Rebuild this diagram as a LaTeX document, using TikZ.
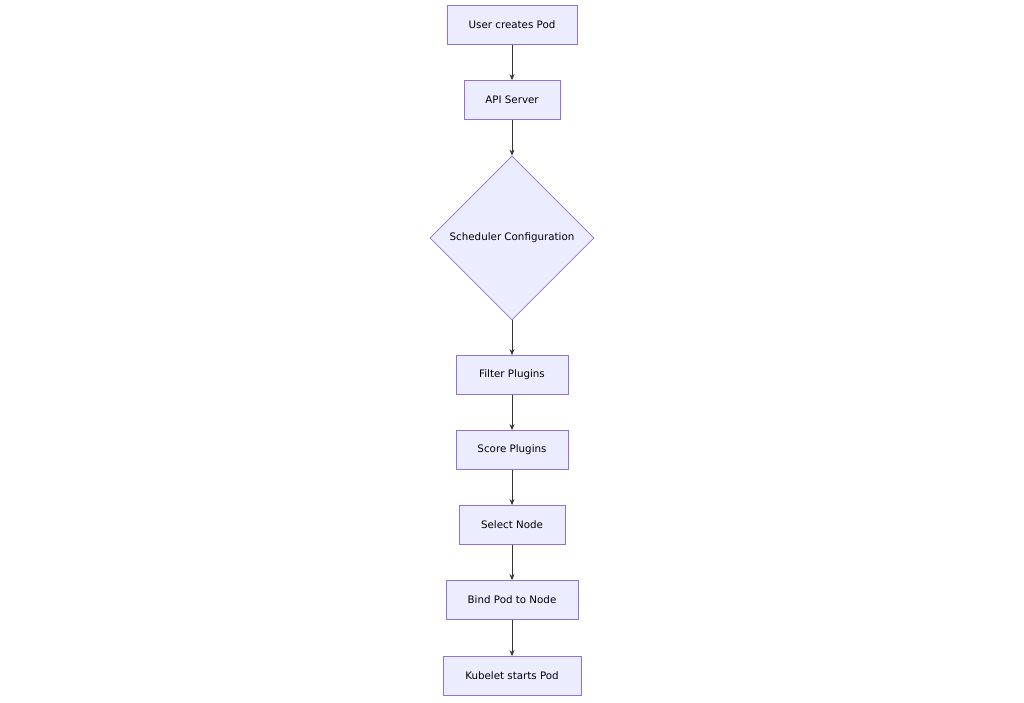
\documentclass[tikz,border=0pt]{standalone}
\usepackage{fontspec}
\setmainfont{DejaVu Sans}
\usetikzlibrary{shapes.geometric,arrows.meta}
\definecolor{boxfill}{HTML}{ECECFF}
\definecolor{boxline}{HTML}{9370DB}
\definecolor{arrowline}{HTML}{333333}

\begin{document}
\begin{tikzpicture}[x=1pt,y=-1pt,
    stage/.style = {draw=boxline, fill=boxfill, line width=0.8pt, minimum height=39pt, inner sep=0pt, font=\fontsize{10.3}{12}\selectfont},
    choice/.style = {draw=boxline, fill=boxfill, line width=0.8pt, diamond, minimum width=164pt, minimum height=164pt, inner sep=0pt, font=\fontsize{10.3}{12}\selectfont},
    flow/.style = {-{Stealth[length=6pt,width=5pt]}, draw=arrowline, line width=0.8pt}]
    \useasboundingbox (0,0) rectangle (1024,702);
    \node[stage, minimum width=130pt] (user) at (512,25) {User creates Pod};
    \node[stage, minimum width=96pt] (api) at (512,100) {API Server};
    \node[choice] (config) at (512,238) {Scheduler Configuration};
    \node[stage, minimum width=112pt] (filter) at (512,375) {Filter Plugins};
    \node[stage, minimum width=112pt] (score) at (512,450) {Score Plugins};
    \node[stage, minimum width=106pt] (select) at (512,525) {Select Node};
    \node[stage, minimum width=132pt] (bind) at (512,600) {Bind Pod to Node};
    \node[stage, minimum width=138pt] (kubelet) at (512,676) {Kubelet starts Pod};
    \draw[flow] (user) -- (api);
    \draw[flow] (api) -- (config);
    \draw[flow] (config) -- (filter);
    \draw[flow] (filter) -- (score);
    \draw[flow] (score) -- (select);
    \draw[flow] (select) -- (bind);
    \draw[flow] (bind) -- (kubelet);
\end{tikzpicture}
\end{document}
